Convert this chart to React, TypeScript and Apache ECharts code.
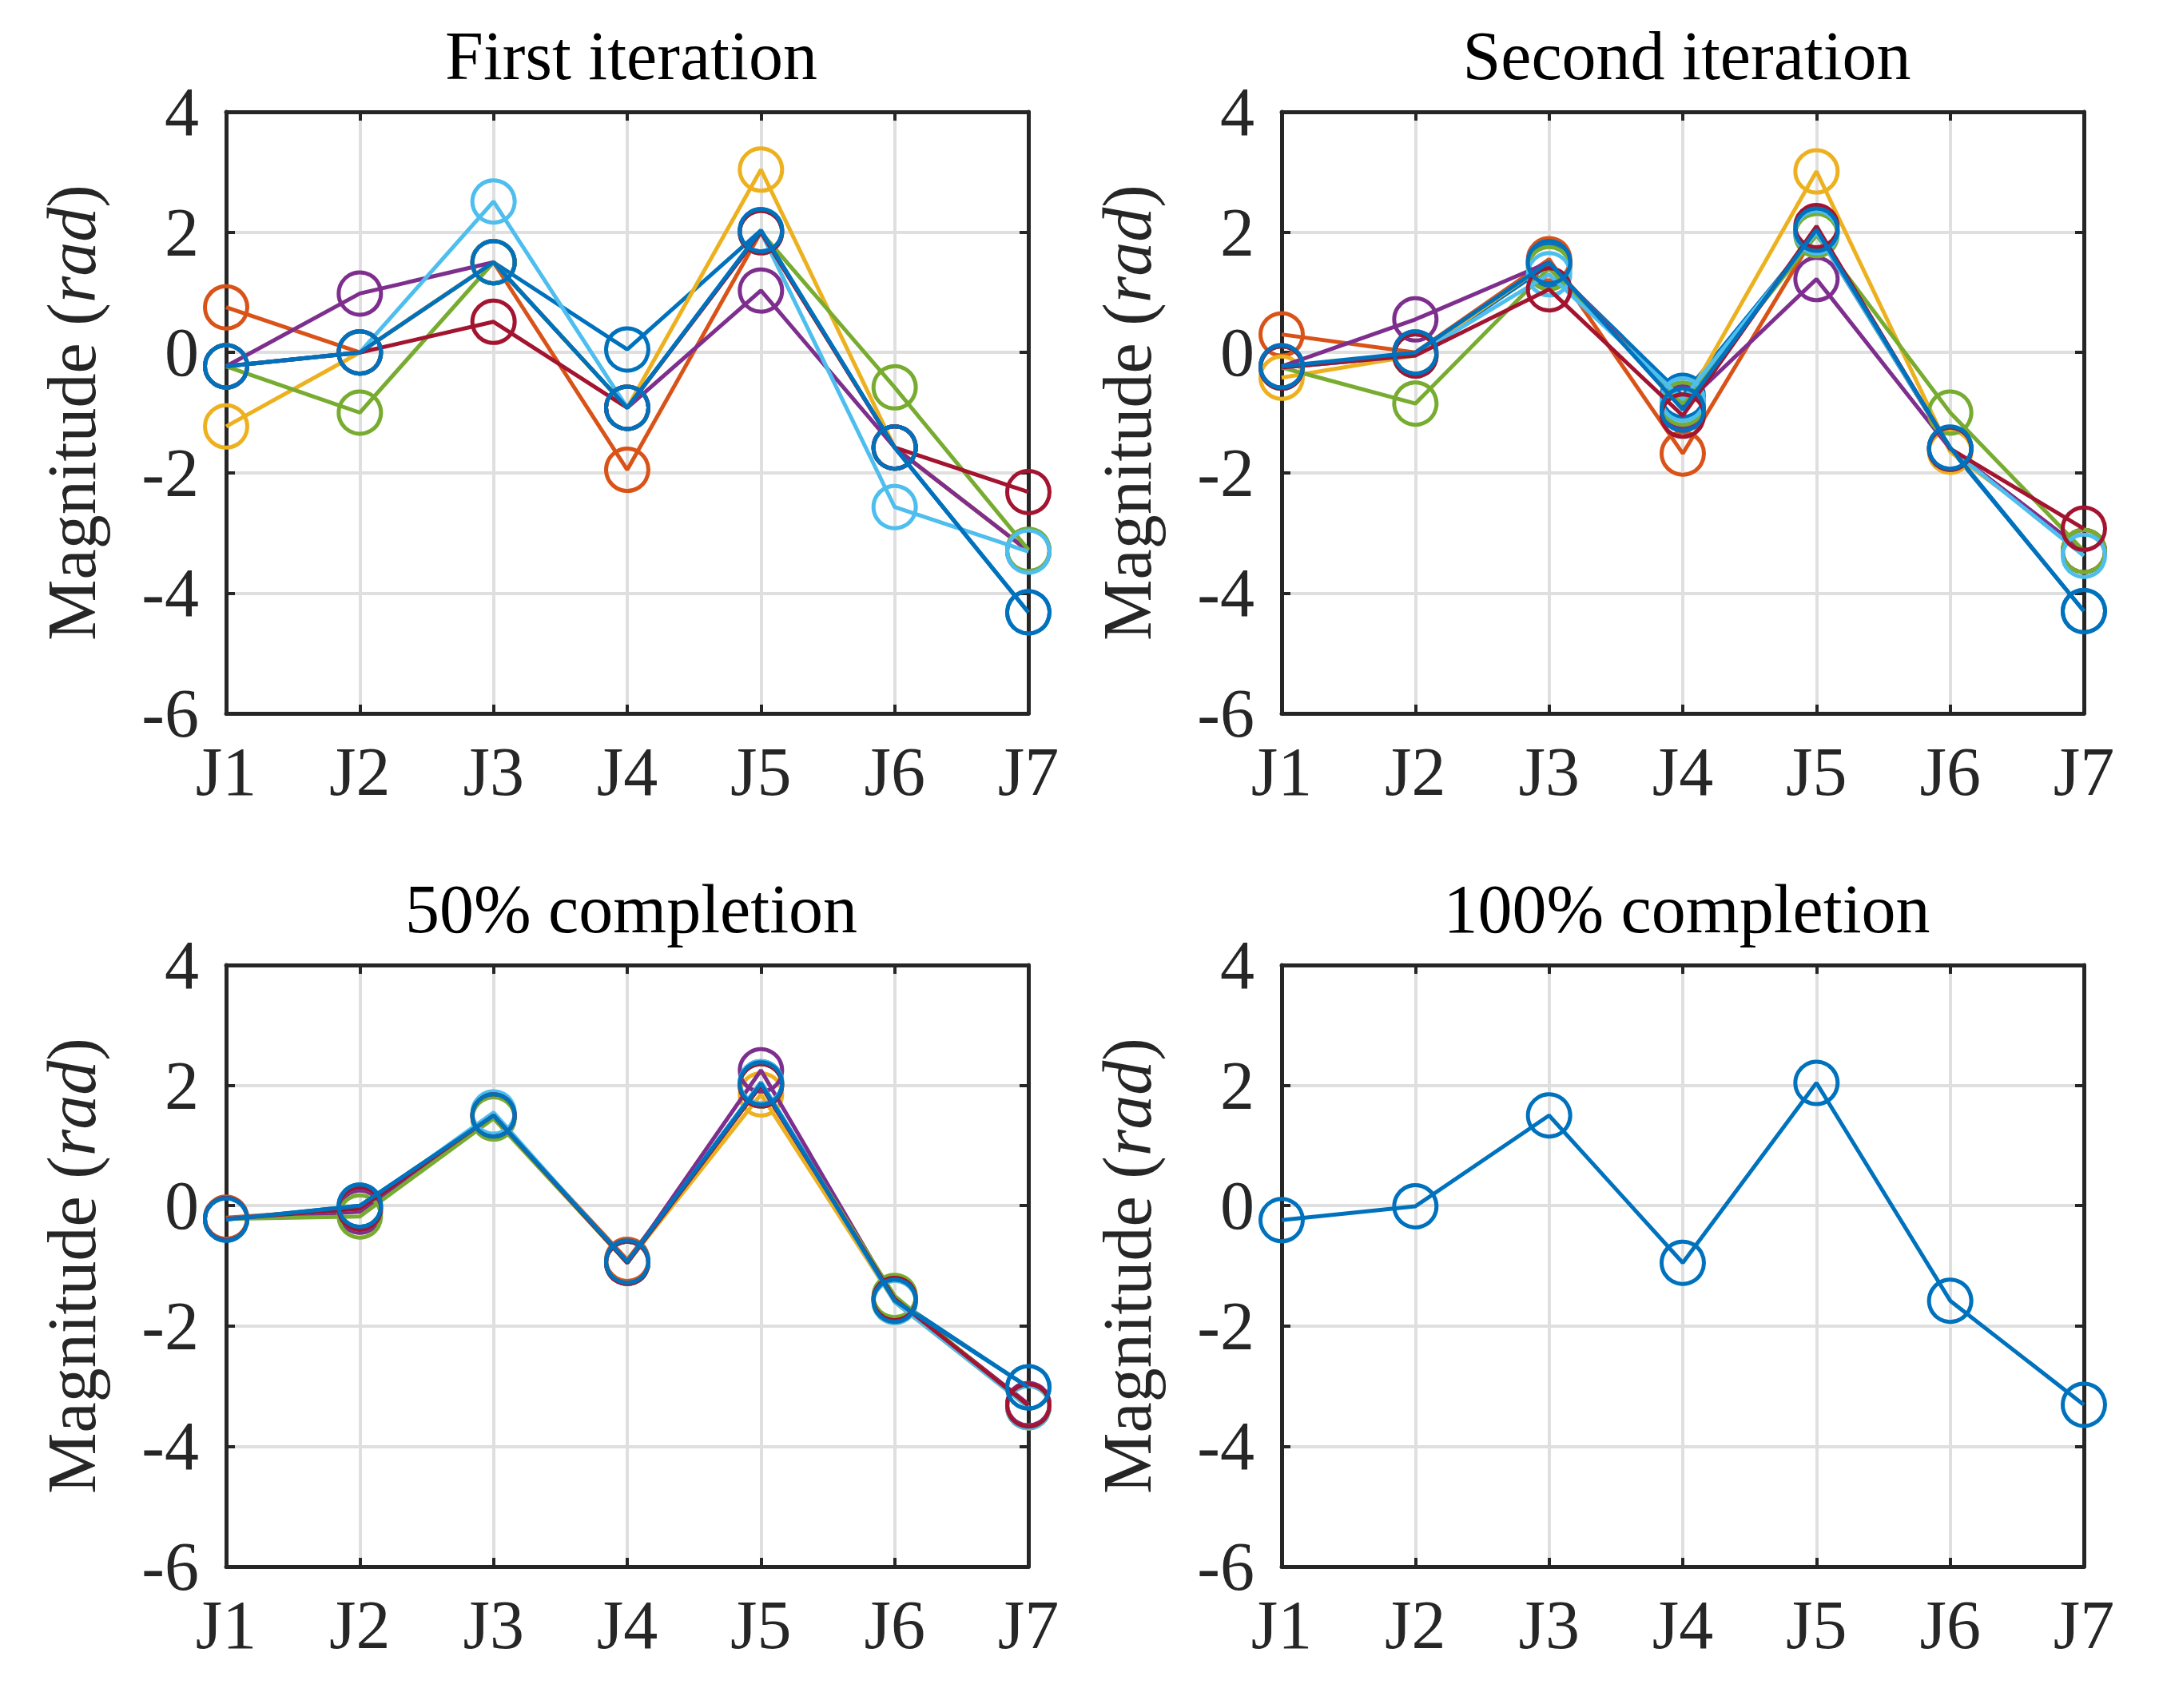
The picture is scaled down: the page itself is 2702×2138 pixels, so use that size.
import React, { useEffect, useRef } from "react";
import * as echarts from "echarts";

const categories = ["J1", "J2", "J3", "J4", "J5", "J6", "J7"];
const panelTitles = ["First iteration", "Second iteration", "50% completion", "100% completion"];
const yTicks = { min: -6, max: 4, interval: 2 };

// MATLAB default colour order (series drawn in this order, second blue on top)
const colors = ["#0072BD", "#D95319", "#EDB120", "#7E2F8E", "#77AC30", "#4DBEEE", "#A2142F", "#0072BD"];

// Panel 1: First iteration
const p1Blue1 = [-0.23, 0.0, 1.5, 0.05, 2.03, -1.58, -4.32];
const p1Orange = [0.75, 0.0, 1.5, -1.95, 2.0, -1.58, -3.3];
const p1Yellow = [-1.23, 0.0, 1.5, -0.92, 3.04, -1.58, -3.3];
const p1Purple = [-0.23, 0.98, 1.5, -0.92, 1.03, -1.58, -3.3];
const p1Green = [-0.23, -1.0, 1.5, -0.92, 2.0, -0.58, -3.28];
const p1LightBlue = [-0.23, 0.0, 2.51, -0.92, 2.0, -2.57, -3.31];
const p1DarkRed = [-0.23, 0.0, 0.51, -0.92, 2.0, -1.58, -2.32];
const p1Blue2 = [-0.23, 0.0, 1.5, -0.92, 2.03, -1.58, -4.32];

// Panel 2: Second iteration
const p2Blue1 = [-0.25, -0.05, 1.45, -0.72, 2.0, -1.6, -4.3];
const p2Orange = [0.3, 0.0, 1.55, -1.68, 2.0, -1.6, -3.3];
const p2Yellow = [-0.42, -0.05, 1.5, -0.9, 3.01, -1.65, -3.3];
const p2Purple = [-0.23, 0.55, 1.5, -0.9, 1.22, -1.6, -3.3];
const p2Green = [-0.25, -0.85, 1.4, -0.85, 1.95, -1.0, -3.3];
const p2LightBlue = [-0.25, -0.05, 1.3, -0.78, 2.0, -1.6, -3.38];
const p2DarkRed = [-0.25, -0.05, 1.05, -1.05, 2.1, -1.6, -2.93];
const p2Blue2 = [-0.23, 0.0, 1.5, -0.95, 2.04, -1.58, -4.3];

// Panel 3: 50% completion
const p3Blue1 = [-0.23, 0.0, 1.5, -0.95, 2.05, -1.55, -3.02];
const p3Orange = [-0.2, -0.05, 1.5, -0.9, 2.0, -1.55, -3.3];
const p3Yellow = [-0.22, -0.1, 1.5, -0.95, 1.85, -1.6, -3.35];
const p3Purple = [-0.22, -0.1, 1.5, -0.95, 2.25, -1.55, -3.3];
const p3Green = [-0.22, -0.18, 1.45, -0.95, 2.0, -1.5, -3.35];
const p3LightBlue = [-0.22, -0.05, 1.55, -0.95, 2.05, -1.6, -3.35];
const p3DarkRed = [-0.22, -0.05, 1.5, -0.95, 2.0, -1.55, -3.32];
const p3Blue2 = [-0.23, 0.0, 1.5, -0.93, 2.03, -1.58, -3.02];

// Panel 4: 100% completion
const p4Final = [-0.24, -0.01, 1.5, -0.95, 2.04, -1.58, -3.31];

const panels = [
  [p1Blue1, p1Orange, p1Yellow, p1Purple, p1Green, p1LightBlue, p1DarkRed, p1Blue2],
  [p2Blue1, p2Orange, p2Yellow, p2Purple, p2Green, p2LightBlue, p2DarkRed, p2Blue2],
  [p3Blue1, p3Orange, p3Yellow, p3Purple, p3Green, p3LightBlue, p3DarkRed, p3Blue2],
  [p4Final],
];
const panelColors = [colors, colors, colors, ["#0072BD"]];

const FONT = "'Liberation Serif', 'Times New Roman', serif";
const AX = "#262626";
const GRIDC = "#DFDFDF";
const FS = 86;

const gridBoxes = [
  { left: 283, top: 140 },
  { left: 1604, top: 140 },
  { left: 283, top: 1208 },
  { left: 1604, top: 1208 },
];
const GW = 1004;
const GH = 753;

export default function App() {
  const ref = useRef<HTMLDivElement>(null);
  useEffect(() => {
    if (!ref.current) return;
    const chart = echarts.init(ref.current, null, { renderer: "svg" });
    const grid: any[] = [];
    const xAxis: any[] = [];
    const yAxis: any[] = [];
    const series: any[] = [];
    const title: any[] = [];
    gridBoxes.forEach((g, i) => {
      grid.push({ left: g.left, top: g.top, width: GW, height: GH, containLabel: false });
      title.push({
        text: panelTitles[i],
        left: g.left + GW / 2,
        top: g.top - 118,
        textAlign: "center",
        textStyle: { fontFamily: FONT, fontSize: FS, fontWeight: "normal", color: "#000" },
      });
      const axisLine = { show: true, onZero: false, lineStyle: { color: AX, width: 5 } };
      const tick = { show: true, inside: true, length: 11, lineStyle: { color: AX, width: 4 } };
      xAxis.push({
        type: "category",
        gridIndex: i,
        position: "bottom",
        data: categories,
        boundaryGap: false,
        axisLine,
        axisTick: tick,
        axisLabel: { fontFamily: FONT, fontSize: FS, color: AX, margin: 30 },
        splitLine: { show: true, lineStyle: { color: GRIDC, width: 4 } },
      });
      xAxis.push({
        type: "category",
        gridIndex: i,
        position: "top",
        data: categories,
        boundaryGap: false,
        axisLine,
        axisTick: tick,
        axisLabel: { show: false },
        splitLine: { show: false },
      });
      yAxis.push({
        type: "value",
        gridIndex: i,
        position: "left",
        min: yTicks.min,
        max: yTicks.max,
        interval: yTicks.interval,
        axisLine,
        axisTick: tick,
        axisLabel: { fontFamily: FONT, fontSize: FS, color: AX, margin: 34 },
        splitLine: { show: true, lineStyle: { color: GRIDC, width: 4 } },
        name: "Magnitude ({i|rad})",
        nameLocation: "middle",
        nameRotate: 90,
        nameGap: 150,
        nameTextStyle: {
          fontFamily: FONT,
          fontSize: FS,
          color: AX,
          rich: { i: { fontFamily: FONT, fontSize: FS, color: AX, fontStyle: "italic" } },
        },
      });
      yAxis.push({
        type: "value",
        gridIndex: i,
        position: "right",
        min: yTicks.min,
        max: yTicks.max,
        interval: yTicks.interval,
        axisLine,
        axisTick: tick,
        axisLabel: { show: false },
        splitLine: { show: false },
      });
      panels[i].forEach((vals, k) => {
        const c = panelColors[i][k];
        series.push({
          type: "line",
          xAxisIndex: i * 2,
          yAxisIndex: i * 2,
          data: vals,
          clip: false,
          symbol: "circle",
          symbolSize: 53,
          showSymbol: true,
          lineStyle: { color: c, width: 5 },
          itemStyle: { color: "rgba(0,0,0,0)", borderColor: c, borderWidth: 5 },
          z: 3 + k,
        });
      });
    });
    chart.setOption({
      animation: false,
      backgroundColor: "#fff",
      title,
      grid,
      xAxis,
      yAxis,
      series,
    });
    return () => chart.dispose();
  }, []);
  return (
    <div
      ref={ref}
      style={{ position: "fixed", left: 0, top: 0, width: 2702, height: 2138, background: "#fff" }}
    />
  );
}
